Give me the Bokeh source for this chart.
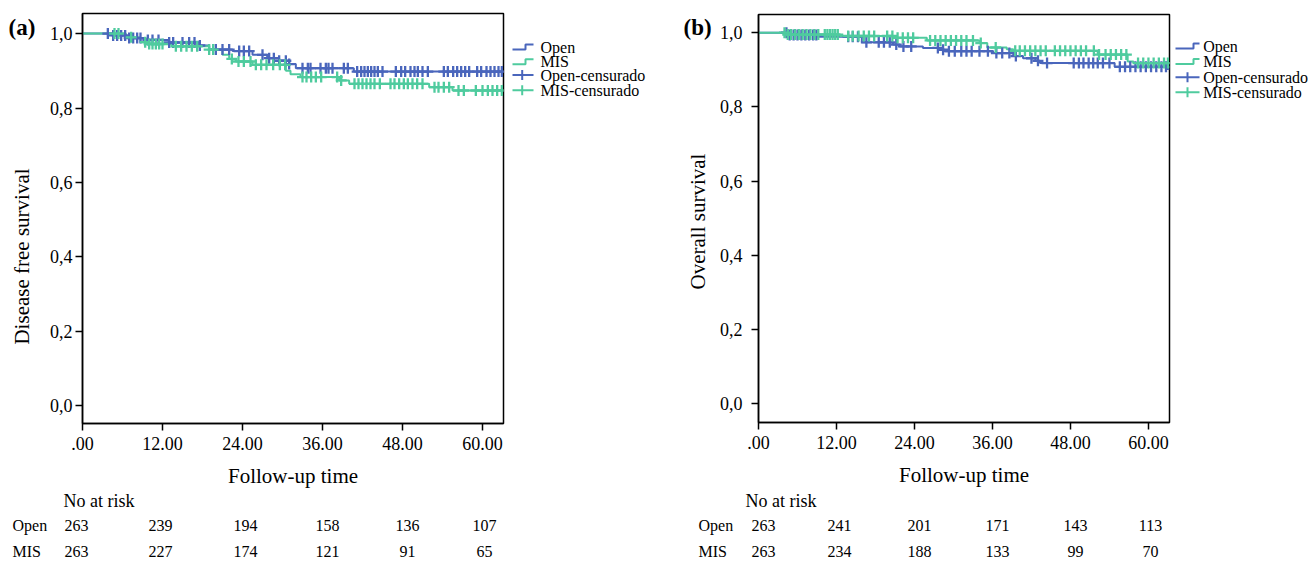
import numpy as np
from bokeh.plotting import figure
from bokeh.models import Range1d, FixedTicker, CustomJSTickFormatter
from bokeh.layouts import row, column
from bokeh.embed import file_html
from bokeh.resources import INLINE
from bokeh.core.properties import value

# ---------------- data ----------------
groups = ["Open", "MIS"]
legend_labels = ["Open", "MIS", "Open-censurado", "MIS-censurado"]
x_ticks = [0, 12, 24, 36, 48, 60]
x_tick_labels = [".00", "12.00", "24.00", "36.00", "48.00", "60.00"]
y_ticks = [0.0, 0.2, 0.4, 0.6, 0.8, 1.0]
y_tick_labels = ["0,0", "0,2", "0,4", "0,6", "0,8", "1,0"]
risk_times = [0, 12, 24, 36, 48, 60]

# (a) Disease free survival - step curves (time, survival)
dfs_open_t = [0, 4.5, 6.5, 9.5, 13.0, 17.5, 19.0, 22.5, 25.5, 27.7, 29.5, 31.0, 32.0, 40.7]
dfs_open_s = [1.0, 0.995, 0.988, 0.983, 0.976, 0.968, 0.957, 0.953, 0.943, 0.934, 0.927, 0.918, 0.907, 0.898]
dfs_mis_t = [0, 6.5, 8.7, 10.0, 13.5, 19.0, 21.0, 22.0, 23.0, 25.5, 30.5, 31.2, 32.7, 38.5, 40.0, 52.0, 55.5]
dfs_mis_s = [1.0, 0.990, 0.977, 0.972, 0.966, 0.957, 0.943, 0.932, 0.925, 0.916, 0.900, 0.891, 0.883, 0.874, 0.865, 0.856, 0.847]
dfs_open_cens = [3.8, 4.6, 5.2, 5.8, 6.4, 7.0, 7.6, 8.2, 8.7, 9.8, 10.5, 11.4, 13.0, 13.6, 15.0, 16.0, 16.8,
                 17.6, 20.0, 21.0, 22.0, 23.5, 24.2, 25.0, 27.0, 28.0, 28.7, 29.5, 30.5, 31.0, 33.0, 33.8,
                 34.2, 35.7, 36.5, 36.9, 37.5, 39.2, 39.8, 41.2, 41.8, 42.3, 42.8, 43.3, 43.8, 44.3, 45.0,
                 47.0, 47.8, 48.4, 49.2, 49.8, 50.3, 51.0, 51.8, 54.2, 54.8, 55.6, 56.2, 56.8, 57.4, 58.0,
                 59.2, 59.8, 60.6, 61.2, 61.8, 62.4, 62.9]
dfs_mis_cens = [4.8, 5.4, 7.3, 9.4, 10.0, 10.5, 11.0, 11.5, 12.0, 14.0, 14.8, 15.6, 16.4, 17.2, 19.0, 19.6,
                22.4, 23.4, 24.2, 25.2, 26.0, 26.8, 27.6, 28.6, 29.6, 30.4, 33.0, 33.6, 34.3, 35.0, 35.8,
                38.2, 38.8, 40.8, 41.4, 42.0, 42.6, 43.2, 43.8, 44.6, 46.2, 46.8, 47.5, 48.2, 48.8, 49.5,
                50.2, 51.0, 52.8, 53.4, 54.2, 55.0, 56.4, 57.2, 59.0, 60.0, 60.8, 61.5, 62.2, 62.9]
risk_dfs_open = [263, 239, 194, 158, 136, 107]
risk_dfs_mis = [263, 227, 174, 121, 91, 65]

# (b) Overall survival
os_open_t = [0, 4.5, 9.0, 15.9, 20.7, 21.7, 25.3, 28.2, 28.7, 36.1, 39.2, 40.7, 42.6, 43.3, 54.8, 62.8]
os_open_s = [1.0, 0.994, 0.989, 0.974, 0.968, 0.963, 0.959, 0.954, 0.950, 0.945, 0.937, 0.931, 0.924, 0.918, 0.908, 0.902]
os_mis_t = [0, 4.5, 12.5, 20.7, 25.9, 34.0, 35.2, 38.2, 39.2, 52.2, 56.8, 57.7]
os_mis_s = [1.0, 0.995, 0.991, 0.986, 0.979, 0.972, 0.960, 0.955, 0.951, 0.941, 0.922, 0.918]
os_open_cens = [4.3, 4.8, 5.4, 6.0, 6.6, 7.2, 7.8, 8.4, 8.9, 13.8, 14.5, 15.3, 16.6, 18.5, 19.3, 20.2, 21.2,
                22.3, 23.5, 27.6, 28.4, 29.3, 30.2, 31.2, 32.0, 32.8, 34.0, 35.3, 36.6, 37.5, 38.6, 39.6,
                42.0, 43.0, 44.4, 48.5, 49.3, 50.0, 50.8, 51.5, 52.2, 53.0, 54.0, 55.6, 56.4, 57.2, 58.0,
                58.8, 59.6, 60.4, 61.2, 62.0, 62.7]
os_mis_cens = [4.0, 4.5, 5.0, 5.6, 6.2, 6.8, 7.4, 8.0, 8.6, 9.2, 10.2, 10.6, 11.0, 11.4, 11.8, 12.2, 13.8,
               14.5, 15.4, 16.2, 17.0, 17.8, 19.8, 20.6, 21.4, 22.2, 23.0, 23.8, 26.4, 27.2, 28.0, 28.8,
               29.6, 30.4, 31.2, 32.0, 33.0, 34.2, 36.5, 39.5, 40.2, 41.0, 41.8, 42.6, 43.4, 44.2, 45.6,
               46.4, 47.2, 48.0, 48.8, 49.6, 50.4, 51.6, 52.4, 53.4, 54.2, 55.0, 55.8, 56.6, 58.4, 59.2,
               60.0, 60.8, 61.6, 62.4, 63.0]
risk_os_open = [263, 241, 201, 171, 143, 113]
risk_os_mis = [263, 234, 188, 133, 99, 70]

# ---------------- style ----------------
BLUE = "#4A66BC"
GREEN = "#4FCB9E"
FONT = "Liberation Serif"
MAIN_H = 490
TABLE_H = 71


def tick_formatter(vals, labs):
    return CustomJSTickFormatter(args=dict(vals=vals, labs=labs), code="""
        for (let i = 0; i < vals.length; i++) {
            if (Math.abs(vals[i] - tick) < 1e-6) { return labs[i]; }
        }
        return "";
    """)


def censor_y(t, s, cens):
    t = np.asarray(t)
    s = np.asarray(s)
    idx = np.searchsorted(t, np.asarray(cens), side="right") - 1
    return s[idx]


def blank_fig(w, h, xr, yr, bt=0, bb=0):
    f = figure(width=w, height=h, output_backend="svg", toolbar_location=None, title=None,
               x_range=xr, y_range=yr, x_axis_type=None, y_axis_type=None,
               min_border_left=0, min_border_right=0, min_border_top=bt, min_border_bottom=bb)
    f.outline_line_color = None
    return f


def pixel_fig(w, bt, bb):
    # figure whose frame matches the main frame rows; data y == page pixel row
    return blank_fig(w, MAIN_H, Range1d(0, w), Range1d(MAIN_H - bb, bt), bt, bb)


def strip_panel(w, bt, bb, tag, tag_x, tag_y, ylabel, lab_x, lab_y, lab_size):
    s = pixel_fig(w, bt, bb)
    s.text([tag_x], [tag_y], text=[tag], text_font=value(FONT), text_font_style="bold",
           text_font_size="23px", text_color="black", text_baseline="middle", text_align="left")
    s.text([lab_x], [lab_y], text=[ylabel], angle=np.pi / 2, text_font=value(FONT),
           text_font_size=lab_size, text_color="black", text_baseline="middle", text_align="center")
    return s


def main_panel(cfg):
    p = figure(width=cfg["w"], height=MAIN_H, output_backend="svg", toolbar_location=None, title=None,
               x_range=Range1d(0, cfg["x_end"]), y_range=Range1d(*cfg["y_rng"]),
               min_border_left=cfg["bl"], min_border_right=2,
               min_border_top=cfg["bt"], min_border_bottom=cfg["bb"])
    p.xgrid.visible = False
    p.ygrid.visible = False
    p.outline_line_color = "black"
    p.outline_line_width = 1.5
    p.outline_line_alpha = 1.0
    for ax in (p.xaxis[0], p.yaxis[0]):
        ax.axis_line_color = "black"
        ax.axis_line_width = 1.5
        ax.major_tick_line_color = "black"
        ax.major_tick_line_width = 1.5
        ax.major_tick_in = 0
        ax.major_tick_out = 7
        ax.minor_tick_line_color = None
        ax.major_label_text_font = FONT
        ax.major_label_text_font_size = "18px"
        ax.major_label_text_color = "black"
        ax.axis_label_text_font = FONT
        ax.axis_label_text_font_style = "normal"
        ax.axis_label_text_font_size = "21px"
        ax.axis_label_text_color = "black"
    p.xaxis.ticker = FixedTicker(ticks=x_ticks)
    p.xaxis.formatter = tick_formatter(x_ticks, x_tick_labels)
    p.xaxis.axis_label = "Follow-up time"
    p.xaxis.major_label_standoff = 6
    p.xaxis.axis_label_standoff = 11
    p.yaxis.ticker = FixedTicker(ticks=y_ticks)
    p.yaxis.formatter = tick_formatter(y_ticks, y_tick_labels)
    p.yaxis.major_label_standoff = cfg["ystand"]

    xe = cfg["x_end"]
    curves = [(cfg["open_t"], cfg["open_s"], cfg["open_c"], BLUE),
              (cfg["mis_t"], cfg["mis_s"], cfg["mis_c"], GREEN)]
    for t, s, c, col in curves:
        p.step(list(t) + [xe], list(s) + [s[-1]], mode="after", line_color=col, line_width=2)
    for t, s, c, col in curves:
        p.scatter(c, censor_y(t, s, c), marker="cross", size=11, line_color=col, line_width=2.3)
    return p


def legend_panel(w, bt, bb, rows_y, step_x, step_mid, cross_x, text_x):
    lf = pixel_fig(w, bt, bb)
    cols = [BLUE, GREEN, BLUE, GREEN]
    for i, col in enumerate(cols):
        yc = rows_y[i]
        if i < 2:
            lf.line([step_x[0], step_mid, step_mid, step_x[1]],
                    [yc + 2.5, yc + 2.5, yc - 2.5, yc - 2.5], line_color=col, line_width=2)
        else:
            lf.line([step_x[0], step_x[1]], [yc, yc], line_color=col, line_width=2)
            lf.line([cross_x, cross_x], [yc - 5, yc + 5], line_color=col, line_width=2)
    lf.text([text_x] * 4, rows_y, text=legend_labels, text_font=value(FONT),
            text_font_size="16px", text_color="black", text_baseline="middle", text_align="left")
    return lf


def table_panel(w, frame_off, cfg, risk_open, risk_mis, lab_dx, norisk_dx, num_dx):
    frame_w = cfg["w"] - cfg["bl"] - 2
    ppu = frame_w / cfg["x_end"]
    t0 = -frame_off / ppu
    t1 = (w - frame_off) / ppu
    # y data == page pixel row
    tf = blank_fig(w, TABLE_H, Range1d(t0, t1), Range1d(MAIN_H + TABLE_H, MAIN_H))
    y_head, y_open, y_mis = 500.5, 525, 550.5
    tf.text([t0], [y_head], text=["No at risk"], x_offset=norisk_dx, text_font=value(FONT),
            text_font_size="18px", text_color="black", text_baseline="middle", text_align="left")
    tf.text([t0, t0], [y_open, y_mis], text=groups, x_offset=lab_dx, text_font=value(FONT),
            text_font_size="16px", text_color="black", text_baseline="middle", text_align="left")
    tf.text(risk_times, [y_open] * 6, text=[str(v) for v in risk_open], x_offset=num_dx,
            text_font=value(FONT), text_font_size="16px", text_color="black",
            text_baseline="middle", text_align="center")
    tf.text(risk_times, [y_mis] * 6, text=[str(v) for v in risk_mis], x_offset=num_dx,
            text_font=value(FONT), text_font_size="16px", text_color="black",
            text_baseline="middle", text_align="center")
    return tf


BT_A, BB_A = 13, MAIN_H - 423
BT_B, BB_B = 14, MAIN_H - 422

cfg_a = dict(w=460, bl=37, bt=BT_A, bb=BB_A, x_end=63.15, y_rng=(-0.048, 1.054), ystand=3,
             open_t=dfs_open_t, open_s=dfs_open_s, open_c=dfs_open_cens,
             mis_t=dfs_mis_t, mis_s=dfs_mis_s, mis_c=dfs_mis_cens)
cfg_b = dict(w=456, bl=43, bt=BT_B, bb=BB_B, x_end=63.24, y_rng=(-0.051, 1.049), ystand=9,
             open_t=os_open_t, open_s=os_open_s, open_c=os_open_cens,
             mis_t=os_mis_t, mis_s=os_mis_s, mis_c=os_mis_cens)

sa = strip_panel(45, BT_A, BB_A, "(a)", 8, 27, "Disease free survival", 21, 256, "21px")
pa = main_panel(cfg_a)
la = legend_panel(160, BT_A, BB_A, [46.5, 61.3, 74.5, 89.7], (7, 28), 20, 16.7, 35)
ta = table_panel(665, 82, cfg_a, risk_dfs_open, risk_dfs_mis, 12, 63, [-6, -2, 3, 5, 5, 2])

sb = strip_panel(50, BT_B, BB_B, "(b)", 18, 27, "Overall survival", 32, 221, "21px")
pb = main_panel(cfg_b)
lb = legend_panel(138, BT_B, BB_B, [45.5, 61, 76.7, 91.7], (4, 28), 22, 16, 31.7)
tb = table_panel(644, 93, cfg_b, risk_os_open, risk_os_mis, 33, 80, [5, 3, 5, 5, 5, 2])

layout = row(column(row(sa, pa, la), ta), column(row(sb, pb, lb), tb))

open("out.html", "w").write(file_html(layout, INLINE))
